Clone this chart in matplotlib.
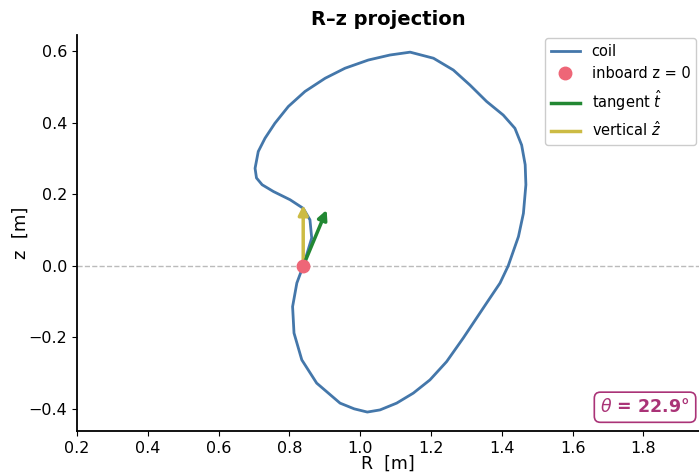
import numpy as np
import matplotlib
matplotlib.use("Agg")
import matplotlib.pyplot as plt
from matplotlib.lines import Line2D

# coil cross-section (R, z) in metres
coil_R = [0.839, 0.853, 0.863, 0.858, 0.839, 0.802, 0.755, 0.723, 0.707, 0.703,
          0.712, 0.731, 0.759, 0.797, 0.844, 0.901, 0.957, 1.023, 1.084, 1.141,
          1.207, 1.263, 1.310, 1.357, 1.404, 1.437, 1.456, 1.466, 1.468, 1.461,
          1.447, 1.418, 1.395, 1.357, 1.291, 1.244, 1.197, 1.150, 1.103, 1.056,
          1.020, 0.983, 0.943, 0.877, 0.835, 0.813, 0.809, 0.821, 0.839]
coil_z = [0.000, 0.045, 0.078, 0.129, 0.161, 0.185, 0.208, 0.227, 0.246, 0.273,
          0.320, 0.357, 0.399, 0.446, 0.488, 0.525, 0.553, 0.576, 0.590, 0.598,
          0.581, 0.548, 0.506, 0.460, 0.422, 0.385, 0.338, 0.283, 0.227, 0.147,
          0.082, 0.000, -0.048, -0.104, -0.202, -0.268, -0.319, -0.356, -0.384, -0.403,
          -0.409, -0.400, -0.384, -0.328, -0.263, -0.188, -0.114, -0.048, 0.000]

inboard_R = 0.839
inboard_z = 0.0
theta_deg = 22.9
arrow_len = 0.17

C_BLUE = "#4477AA"
C_RED = "#EE6677"
C_GREEN = "#228833"
C_YELLOW = "#CCBB44"
C_PURPLE = "#AA3377"
C_GREY = "#BBBBBB"

fig = plt.figure(figsize=(6.99, 4.72), dpi=100)
ax = fig.add_axes([77/699, 41/472, 622/699, 396/472])

ax.axhline(0, color=C_GREY, ls="--", lw=1.0, zorder=1)
ax.plot(coil_R, coil_z, color=C_BLUE, lw=2.0, zorder=2,
        solid_joinstyle="round", solid_capstyle="round")

th = np.deg2rad(theta_deg)
tR = inboard_R + arrow_len * np.sin(th)
tz = inboard_z + arrow_len * np.cos(th)
ax.annotate("", xy=(inboard_R, inboard_z + arrow_len), xytext=(inboard_R, inboard_z),
            arrowprops=dict(arrowstyle="-|>", color=C_YELLOW, lw=2.5,
                            mutation_scale=14, shrinkA=0, shrinkB=0), zorder=3)
ax.annotate("", xy=(tR, tz), xytext=(inboard_R, inboard_z),
            arrowprops=dict(arrowstyle="-|>", color=C_GREEN, lw=2.5,
                            mutation_scale=14, shrinkA=0, shrinkB=0), zorder=3)
ax.plot([inboard_R], [inboard_z], "o", color=C_RED, ms=9, zorder=4)

handles = [
    Line2D([], [], color=C_BLUE, lw=2),
    Line2D([], [], color=C_RED, marker="o", ls="none", ms=9),
    Line2D([], [], color=C_GREEN, lw=2.5),
    Line2D([], [], color=C_YELLOW, lw=2.5),
]
labels = ["coil", "inboard z = 0", r"tangent $\hat{t}$", r"vertical $\hat{z}$"]
ax.legend(handles, labels, loc="upper right", fontsize=10.5, framealpha=1.0,
          borderaxespad=0.2)

ax.text(0.985, 0.06, r"$\theta$ = 22.9°", transform=ax.transAxes, ha="right", va="center",
        fontsize=12.5, fontweight="bold", color=C_PURPLE,
        bbox=dict(boxstyle="round,pad=0.35", fc="white", ec=C_PURPLE, lw=1.2))

ax.set_xlim(0.2, 1.957)
ax.set_ylim(-0.462, 0.646)
ax.set_xticks(np.arange(0.2, 1.81, 0.2))
ax.set_yticks([-0.4, -0.2, 0.0, 0.2, 0.4, 0.6])
ax.tick_params(labelsize=11.5)
ax.spines["top"].set_visible(False)
ax.spines["right"].set_visible(False)
ax.spines["left"].set_linewidth(1.3)
ax.spines["bottom"].set_linewidth(1.3)
ax.set_xlabel("R  [m]", fontsize=12.5, labelpad=-1)
ax.set_ylabel("z  [m]", fontsize=13, labelpad=-1)
ax.set_title("R–z projection", fontsize=14, fontweight="bold", pad=7)

fig.savefig("out.png", dpi=100)
